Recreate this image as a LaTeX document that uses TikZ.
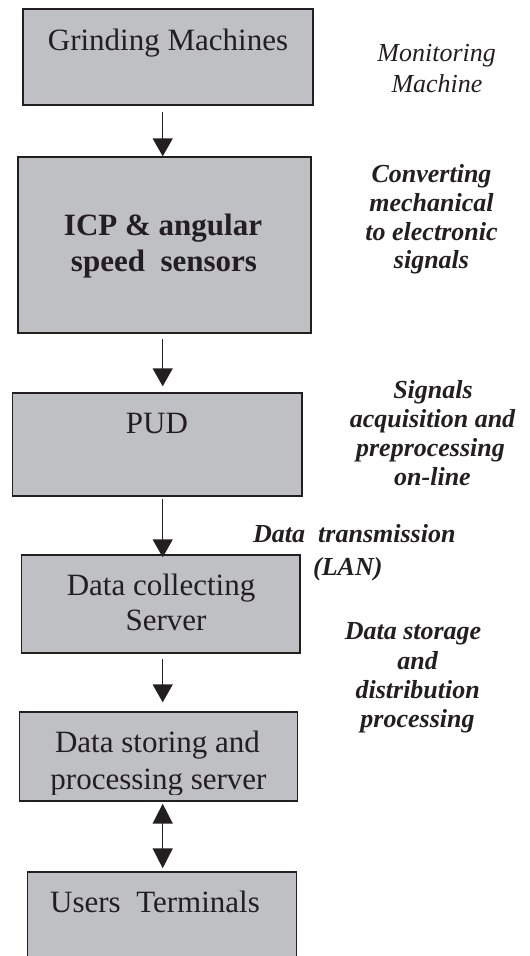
\documentclass[tikz,border=0pt]{standalone}
\usepackage{fontspec}
\setmainfont{Liberation Serif}
\usetikzlibrary{arrows.meta}
\definecolor{boxfill}{RGB}{191,192,196}
\definecolor{ink}{RGB}{35,31,32}
\begin{document}
\begin{tikzpicture}[x=1pt,y=-1pt,
  stage/.style={draw=ink, line width=1.4pt, fill=boxfill, rectangle, inner sep=0pt},
  boxtext/.style={anchor=base, inner sep=0pt, text=ink, font=\fontsize{31}{36}\selectfont},
  boldtext/.style={anchor=base, inner sep=0pt, text=ink, font=\fontsize{31}{36}\selectfont\bfseries},
  note/.style={anchor=base, inner sep=0pt, text=ink, font=\fontsize{26}{29}\selectfont\itshape},
  boldnote/.style={anchor=base, inner sep=0pt, text=ink, font=\fontsize{26}{29}\selectfont\bfseries\itshape},
  flow/.style={draw=ink, line width=1.5pt, -{Triangle[width=20pt,length=18pt]}},
  twoway/.style={draw=ink, line width=1.5pt, {Triangle[width=20pt,length=20pt]}-{Triangle[width=20pt,length=20pt]}},
]
\useasboundingbox (0,0) rectangle (530,956);
\clip (0,0) rectangle (530,956);

% column of processing stages
\node[stage, minimum width=290pt,   minimum height=96pt]  (gm)  at (168,57)     {};
\node[stage, minimum width=293pt,   minimum height=176pt] (icp) at (164.5,245)  {};
\node[stage, minimum width=289.3pt, minimum height=103pt] (pud) at (157.35,444.5) {};
\node[stage, minimum width=278.3pt, minimum height=98pt]  (dcs) at (160.85,604) {};
\node[stage, minimum width=278pt,   minimum height=89pt]  (dss) at (158.3,756.5) {};
\node[stage, minimum width=269.4pt, minimum height=128pt] (ut)  at (162,936)    {};

% stage captions
\node[boxtext]  (gm-t)   at (168,50)    {Grinding Machines};
\node[boldtext] (icp-t1) at (163,235)   {ICP \& angular};
\node[boldtext] (icp-t2) at (164,271)   {speed\ \ sensors};
\node[boxtext]  (pud-t)  at (157,433)   {PUD};
\node[boxtext]  (dcs-t1) at (161,595)   {Data collecting};
\node[boxtext]  (dcs-t2) at (166,630)   {Server};
\node[boxtext]  (dss-t1) at (157.5,752) {Data storing and};
\begin{scope}
  \clip (20,712) rectangle (297,794);
  \node[boxtext] (dss-t2) at (158.5,789) {processing server};
\end{scope}
\node[boxtext]  (ut-t)   at (155,912)   {Users\ \ Terminals};

% connectors
\coordinate (ax) at (162.7,0);
\draw[flow, shorten <=6pt]                  (gm.south -| ax)  -- (icp.north -| ax);
\draw[flow, shorten <=5pt, shorten >=6pt]   (icp.south -| ax) -- (pud.north -| ax);
\draw[flow, shorten <=2pt, shorten >=-3pt]  (pud.south -| ax) -- (dcs.north -| ax);
\draw[flow, shorten <=5pt, shorten >=9pt]   (dcs.south -| ax) -- (dss.north -| ax);
\draw[twoway, shorten <=2pt, shorten >=3pt] (dss.south -| ax) -- (ut.north -| ax);

% side notes
\node[note]     (n1a) at (436.7,61)  {Monitoring};
\node[note]     (n1b) at (437,92)    {Machine};
\node[boldnote] (n2a) at (431.5,182) {Converting};
\node[boldnote] (n2b) at (431.5,211) {mechanical};
\node[boldnote] (n2c) at (431.5,240) {to electronic};
\node[boldnote] (n2d) at (431.5,268) {signals};
\node[boldnote] (n3a) at (433,398)   {Signals};
\node[boldnote] (n3b) at (432.5,427) {acquisition and};
\node[boldnote] (n3c) at (430.5,456) {preprocessing};
\node[boldnote] (n3d) at (432.5,485) {on-line};
\node[boldnote, anchor=base west] (n4a) at (253,542) {Data\ \ transmission};
\node[boldnote, anchor=base west] (n4b) at (313,575) {(LAN)};
\node[boldnote] (n5a) at (413,639)   {Data storage};
\node[boldnote] (n5b) at (417.7,669) {and};
\node[boldnote] (n5c) at (417.7,698) {distribution};
\node[boldnote] (n5d) at (417.5,727) {processing};
\end{tikzpicture}
\end{document}
